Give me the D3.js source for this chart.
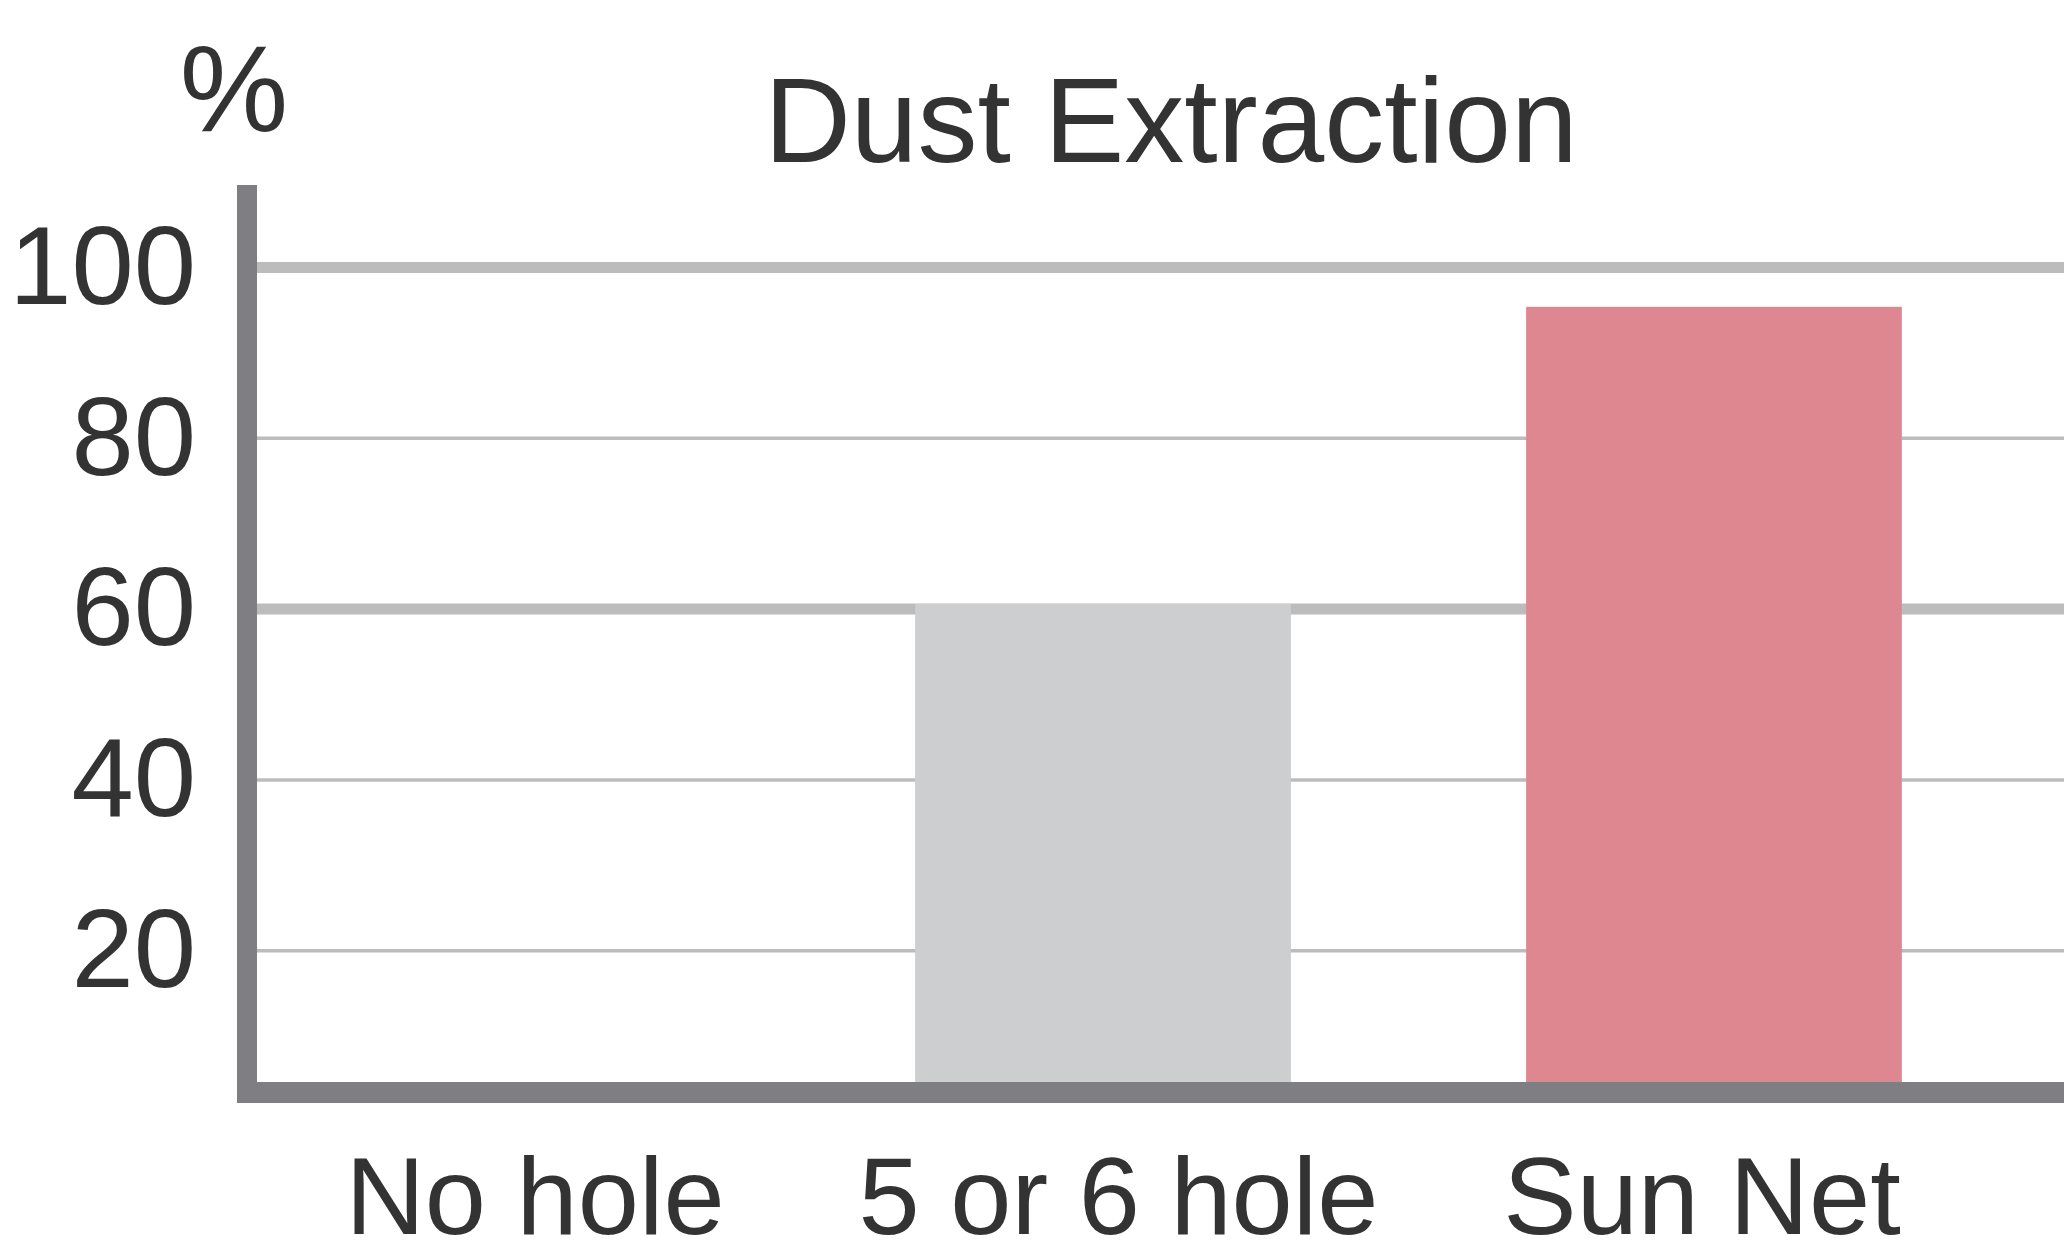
<!DOCTYPE html>
<html>
  <head>
    <meta charset="utf-8">
    <title>Dust Extraction</title>
    <style>
      body { margin: 0; background: #fff; }
      text { font-family: "Liberation Sans", Arial, sans-serif; fill: #333333; }
    </style>
  </head>
  <body>
    <div id="chart"></div>
    <script src="https://cdn.jsdelivr.net/npm/d3@7"></script>
    <script>
// chart data
const categories = ['No hole', '5 or 6 hole', 'Sun Net'];
const values = [0, 60.6, 95.4];
const tickValues = [20, 40, 60, 80, 100];
const barColors = ['#ffffff', '#cdced0', '#de8790'];

const W = 2064, H = 1258;
const axisX = 247;          // centre of the vertical axis
const axisW = 20;           // axis stroke
const thickGrid = [60, 100];

const svg = d3.select('#chart')
  .append('svg')
  .attr('width', W)
  .attr('height', H);

// y scale: the x axis sits a little above zero in the original
const y = d3.scaleLinear()
  .domain([3.4, 100])
  .range([1092.5, 267.5]);

// bars
const x = d3.scaleBand()
  .domain(categories)
  .range([axisX, 1959])
  .paddingInner(0.385)
  .paddingOuter(0.0935);

// labels under the bars are not quite centred on them
const xLabel = d3.scalePoint()
  .domain(categories)
  .range([535, 1702]);

// grid lines
svg.append('g')
  .selectAll('line')
  .data(tickValues)
  .enter()
  .append('line')
  .attr('x1', axisX + axisW / 2)
  .attr('x2', W)
  .attr('y1', d => y(d))
  .attr('y2', d => y(d))
  .attr('stroke', '#bcbcbc')
  .attr('stroke-width', d => thickGrid.includes(d) ? 11 : 3.5);

svg.append('g')
  .selectAll('rect')
  .data(categories)
  .enter()
  .append('rect')
  .attr('x', d => x(d))
  .attr('width', x.bandwidth())
  .attr('y', (d, i) => y(Math.max(values[i], y.domain()[0])))
  .attr('height', (d, i) => y(y.domain()[0]) - y(Math.max(values[i], y.domain()[0])))
  .attr('fill', (d, i) => barColors[i]);

// axes lines
svg.append('line')
  .attr('x1', axisX - axisW / 2)
  .attr('x2', W)
  .attr('y1', y.range()[0])
  .attr('y2', y.range()[0])
  .attr('stroke', '#7f7f83')
  .attr('stroke-width', 21);

svg.append('line')
  .attr('x1', axisX)
  .attr('x2', axisX)
  .attr('y1', 185)
  .attr('y2', y.range()[0] + 10.5)
  .attr('stroke', '#7f7f83')
  .attr('stroke-width', axisW);

// y tick labels
const yAxis = svg.append('g')
  .attr('transform', `translate(${axisX},0)`)
  .call(d3.axisLeft(y).tickValues(tickValues).tickSize(0).tickPadding(51));
yAxis.select('.domain').remove();
yAxis.selectAll('text')
  .style('font-size', '112px')
  .style('font-family', '"Liberation Sans", Arial, sans-serif')
  .attr('fill', '#333333');

// x labels
svg.append('g')
  .selectAll('text')
  .data(categories)
  .enter()
  .append('text')
  .attr('x', d => xLabel(d))
  .attr('y', 1234)
  .attr('text-anchor', 'middle')
  .style('font-size', '110px')
  .text(d => d);

// unit and title
svg.append('text')
  .attr('x', 234)
  .attr('y', 131)
  .attr('text-anchor', 'middle')
  .style('font-size', '122px')
  .text('%');

svg.append('text')
  .attr('x', 1171)
  .attr('y', 162)
  .attr('text-anchor', 'middle')
  .style('font-size', '120px')
  .text('Dust Extraction');
    </script>
  </body>
</html>
